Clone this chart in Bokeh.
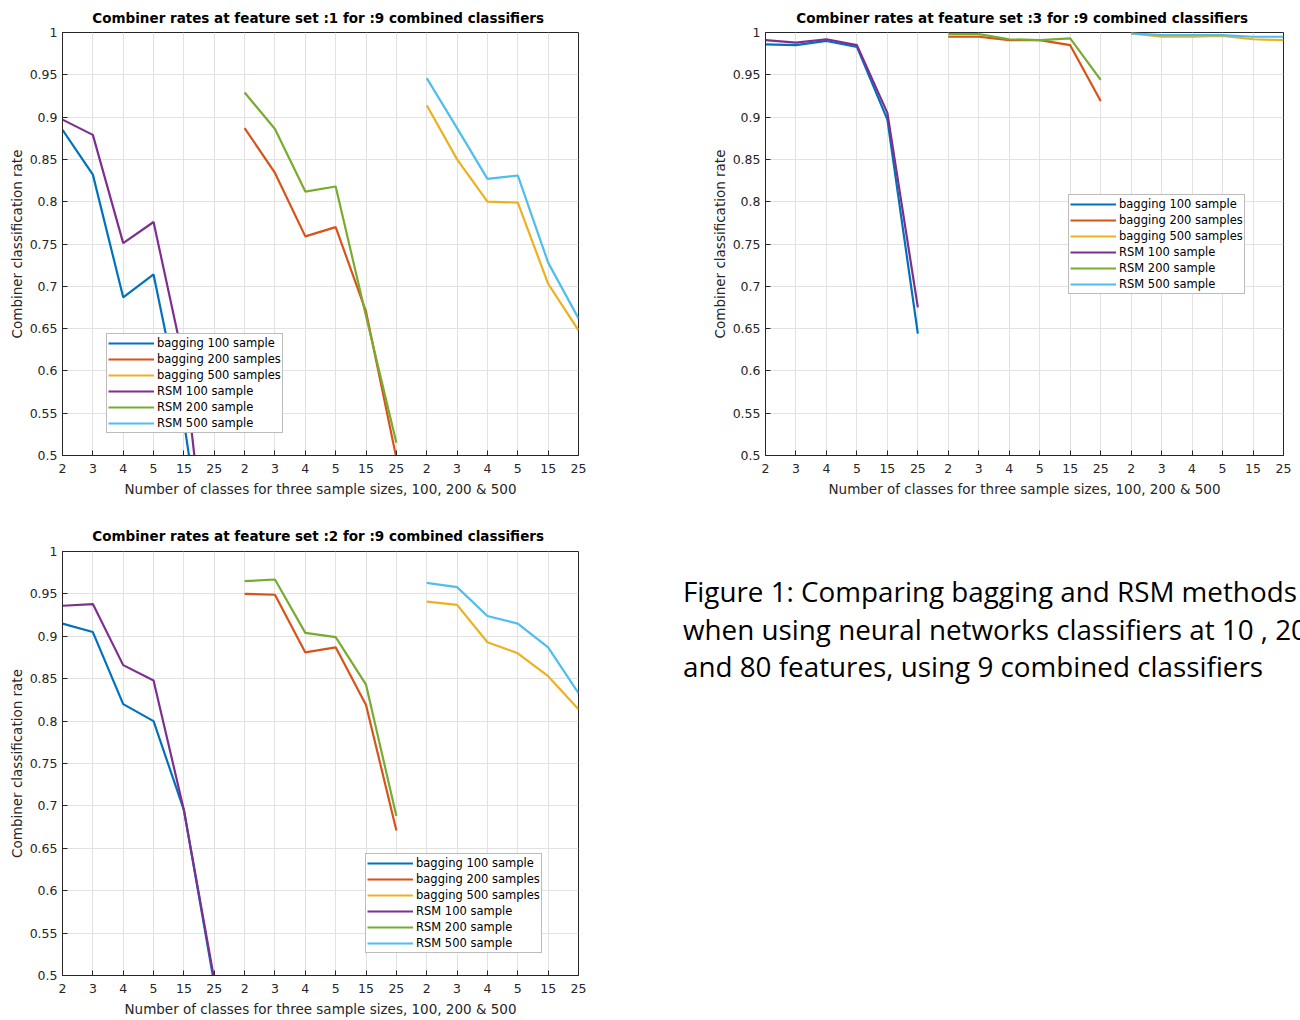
from bokeh.plotting import figure
from bokeh.layouts import row, column
from bokeh.models import (Range1d, FixedTicker, Legend, LegendItem,
                          Div, CustomJSTickFormatter, ColumnDataSource)
from bokeh.embed import file_html
from bokeh.resources import INLINE

# ---------------- data ----------------
CLASS_LABELS = ["2", "3", "4", "5", "15", "25"]
SAMPLE_BLOCKS = ["100", "200", "500"]
SERIES_NAMES = ["bagging 100 sample", "bagging 200 samples", "bagging 500 samples",
                "RSM 100 sample", "RSM 200 sample", "RSM 500 sample"]
SERIES_BLOCK = [0, 1, 2, 0, 1, 2]
COLORS = ["#0072BD", "#D95319", "#EDB120", "#7E2F8E", "#77AC30", "#4DBEEE"]

# feature set 1
fs1_bagging100 = [0.885, 0.832, 0.687, 0.714, 0.54, 0.30]
fs1_bagging200 = [0.887, 0.834, 0.759, 0.770, 0.670, 0.497]
fs1_bagging500 = [0.914, 0.850, 0.800, 0.799, 0.703, 0.648]
fs1_rsm100 = [0.897, 0.879, 0.751, 0.776, 0.61, 0.29]
fs1_rsm200 = [0.929, 0.886, 0.812, 0.818, 0.665, 0.515]
fs1_rsm500 = [0.946, 0.887, 0.827, 0.831, 0.728, 0.662]

# feature set 2
fs2_bagging100 = [0.915, 0.905, 0.820, 0.800, 0.695, 0.49]
fs2_bagging200 = [0.950, 0.949, 0.881, 0.887, 0.819, 0.671]
fs2_bagging500 = [0.941, 0.937, 0.893, 0.880, 0.853, 0.814]
fs2_rsm100 = [0.936, 0.938, 0.866, 0.848, 0.695, 0.495]
fs2_rsm200 = [0.965, 0.967, 0.904, 0.899, 0.843, 0.688]
fs2_rsm500 = [0.963, 0.958, 0.924, 0.915, 0.887, 0.833]

# feature set 3
fs3_bagging100 = [0.986, 0.985, 0.990, 0.983, 0.897, 0.644]
fs3_bagging200 = [0.995, 0.995, 0.991, 0.991, 0.985, 0.919]
fs3_bagging500 = [0.999, 0.995, 0.995, 0.996, 0.992, 0.991]
fs3_rsm100 = [0.991, 0.988, 0.992, 0.985, 0.905, 0.675]
fs3_rsm200 = [0.998, 0.998, 0.992, 0.991, 0.993, 0.944]
fs3_rsm500 = [0.999, 0.997, 0.997, 0.997, 0.995, 0.995]

Y_TICKS = [0.5, 0.55, 0.6, 0.65, 0.7, 0.75, 0.8, 0.85, 0.9, 0.95, 1.0]

FONT = "DejaVu Sans"
TXT = "#262626"


def make_panel(title, series, width, height, bl, br, bt, bb, legend_xy, t_standoff):
    n = len(CLASS_LABELS)
    x_lo, x_hi = 1, 3 * n
    p = figure(width=width, height=height, output_backend="svg", toolbar_location=None,
               min_border_left=bl, min_border_right=br, min_border_top=bt, min_border_bottom=bb,
               x_range=Range1d(x_lo, x_hi), y_range=Range1d(0.5, 1.0), title=title)
    p.title.text_font = FONT
    p.title.text_font_size = "13.5px"
    p.title.text_font_style = "bold"
    p.title.align = "center"
    p.title.text_color = "#000000"
    p.title.standoff = t_standoff

    xticks = list(range(x_lo, x_hi + 1))
    overrides = {k: CLASS_LABELS[(k - 1) % n] for k in xticks}

    p.xaxis.ticker = FixedTicker(ticks=xticks)
    p.xaxis.major_label_overrides = overrides
    p.yaxis.ticker = FixedTicker(ticks=Y_TICKS)
    p.yaxis.formatter = CustomJSTickFormatter(code="return parseFloat(tick.toFixed(2)).toString();")
    p.xaxis.axis_label = "Number of classes for three sample sizes, 100, 200 & 500"
    p.yaxis.axis_label = "Combiner classification rate"
    for ax in (p.xaxis, p.yaxis):
        ax.major_tick_in = 5
        ax.major_tick_out = 0
        ax.minor_tick_in = 0
        ax.minor_tick_out = 0
        ax.axis_line_color = TXT
        ax.major_tick_line_color = TXT
        ax.major_label_text_font = FONT
        ax.major_label_text_font_size = "12.5px"
        ax.major_label_text_color = TXT
        ax.axis_label_text_font = FONT
        ax.axis_label_text_font_size = "13.5px"
        ax.axis_label_text_font_style = "normal"
        ax.axis_label_text_color = TXT
    p.xaxis.major_label_standoff = 8
    p.xaxis.axis_label_standoff = 5
    p.yaxis.major_label_standoff = 5
    p.yaxis.axis_label_standoff = 2

    p.xgrid.ticker = FixedTicker(ticks=xticks)
    p.ygrid.ticker = FixedTicker(ticks=Y_TICKS)
    p.grid.grid_line_color = "#e2e2e2"
    p.grid.grid_line_width = 1
    p.outline_line_color = TXT

    items = []
    for name, vals, blk, col in zip(SERIES_NAMES, series, SERIES_BLOCK, COLORS):
        xs = [blk * n + i + 1 for i in range(n)]
        src = ColumnDataSource(dict(x=xs, y=vals))
        r = p.line("x", "y", source=src, line_color=col, line_width=2.2)
        items.append(LegendItem(label=name, renderers=[r]))

    leg = Legend(items=items, location=legend_xy, orientation="vertical")
    leg.label_text_font = FONT
    leg.label_text_font_size = "11.5px"
    leg.label_text_color = "#000000"
    leg.glyph_width = 46
    leg.glyph_height = 16
    leg.label_height = 16
    leg.label_standoff = 3
    leg.spacing = 0
    leg.padding = 1
    leg.margin = 0
    leg.border_line_color = "#7a7a7a"
    leg.border_line_width = 1
    leg.background_fill_color = "white"
    leg.background_fill_alpha = 1.0
    p.add_layout(leg, "center")
    return p


p1 = make_panel("Combiner rates at feature set :1 for :9  combined classifiers",
                [fs1_bagging100, fs1_bagging200, fs1_bagging500, fs1_rsm100, fs1_rsm200, fs1_rsm500],
                640, 510, 62, 62, 32, 55, (44, 22), 14)
p2 = make_panel("Combiner rates at feature set :3 for :9  combined classifiers",
                [fs3_bagging100, fs3_bagging200, fs3_bagging500, fs3_rsm100, fs3_rsm200, fs3_rsm500],
                660, 510, 125, 17, 32, 55, (303, 161), 14)
p3 = make_panel("Combiner rates at feature set :2 for :9  combined classifiers",
                [fs2_bagging100, fs2_bagging200, fs2_bagging500, fs2_rsm100, fs2_rsm200, fs2_rsm500],
                640, 510, 62, 62, 41, 45, (303, 22), 15)

caption = Div(
    text=("Figure 1: Comparing bagging and RSM methods<br>"
          "when using neural networks classifiers at 10 , 20<br>"
          "and 80 features, using 9 combined classifiers"),
    width=660, height=510,
    styles={"font-family": "'Open Sans', Lato, sans-serif", "font-size": "27.8px",
            "line-height": "37.5px", "white-space": "nowrap", "overflow": "hidden",
            "padding-left": "38px", "padding-top": "58px", "color": "#000000",
            "box-sizing": "border-box"})

layout = column(row(p1, p2), row(p3, caption))

open("out.html", "w").write(file_html(layout, INLINE))
